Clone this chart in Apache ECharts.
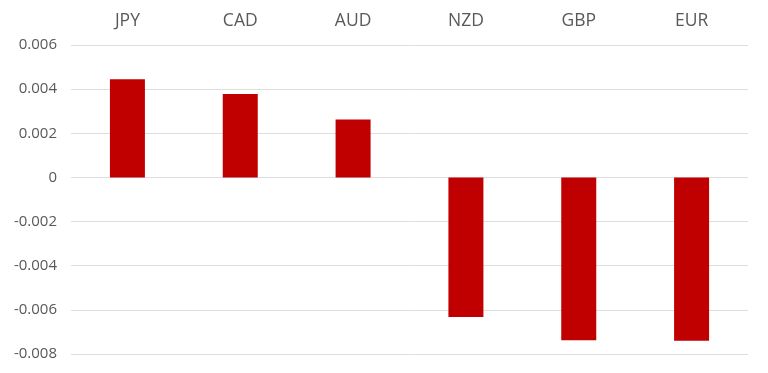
<!DOCTYPE html>
<html>
<head>
<meta charset="utf-8">
<script src="https://cdn.jsdelivr.net/npm/echarts@6/dist/echarts.min.js"></script>
<style>html,body{margin:0;padding:0;background:#fff;}#c{width:768px;height:373px;}</style>
</head>
<body>
<div id="c"></div>
<script>
const categories = ['JPY', 'CAD', 'AUD', 'NZD', 'GBP', 'EUR'];
const values = [0.00445, 0.00378, 0.00262, -0.00632, -0.00738, -0.0074];
const yTicks = { min: -0.008, max: 0.006, interval: 0.002 };

const chart = echarts.init(document.getElementById('c'), null, { renderer: 'canvas' });
chart.setOption({
  animation: false,
  backgroundColor: '#ffffff',
  grid: { left: 71, right: 20, top: 45, bottom: 19, containLabel: false },
  xAxis: {
    type: 'category',
    data: categories,
    position: 'top',
    axisLine: { show: false },
    axisTick: { show: false },
    axisLabel: { color: '#595959', fontSize: 17.5, fontFamily: 'Open Sans', margin: 15 }
  },
  yAxis: {
    type: 'value',
    min: yTicks.min, max: yTicks.max, interval: yTicks.interval,
    axisLine: { show: false },
    axisTick: { show: false },
    splitLine: { lineStyle: { color: '#dedede', width: 1 } },
    axisLabel: {
      color: '#595959', fontSize: 15, fontFamily: 'Open Sans', margin: 14,
      formatter: v => (Math.abs(v) < 1e-12 ? '0' : v.toFixed(3))
    }
  },
  series: [{
    type: 'bar',
    data: values,
    barWidth: 35,
    itemStyle: { color: '#c00000' }
  }]
});
</script>
</body>
</html>
